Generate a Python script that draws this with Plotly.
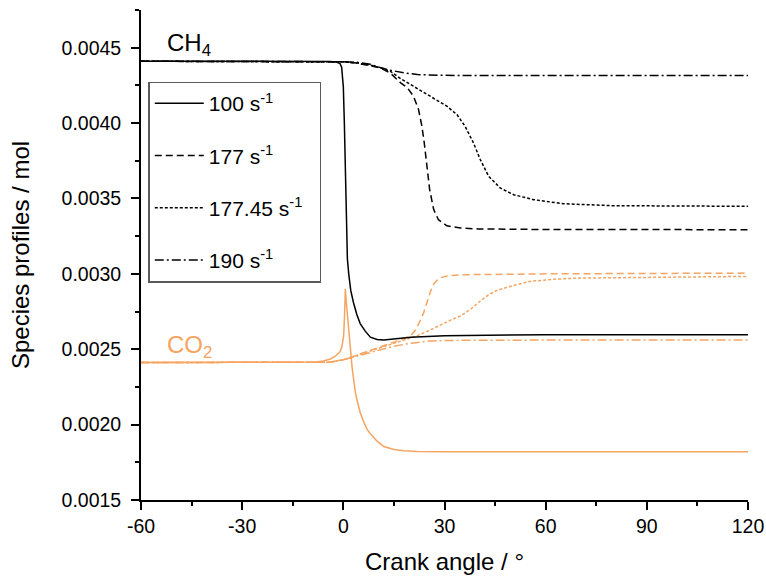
import plotly.graph_objects as go

# ---------------- data ----------------
# CH4, 100 s^-1
ch4_100_x = [-60, -10, -4, -2, -1, -0.5, 0, 0.3, 0.6, 0.9, 1.2, 1.6, 2.2, 3, 4, 5, 6.5, 8, 10, 12, 15, 20, 30, 60, 120]
ch4_100_y = [0.00441, 0.00441, 0.004409, 0.004405, 0.004395, 0.00437, 0.00424, 0.00400, 0.00371, 0.00335, 0.00310, 0.00300,
             0.00289, 0.00281, 0.00273, 0.00267, 0.00262, 0.00258, 0.002565, 0.002562, 0.002568, 0.00258, 0.00259, 0.002596, 0.002596]
# CH4, 177 s^-1
ch4_177_x = [-60, -5, 0, 4, 8, 11, 14, 17, 19, 20.8, 22.3, 23.3, 24, 24.8, 25.6, 26.8, 28.2, 30.7, 34.7, 40, 60, 120]
ch4_177_y = [0.00441, 0.00441, 0.004406, 0.004398, 0.004382, 0.004366, 0.00433, 0.004267, 0.004234, 0.004178, 0.00409, 0.003979,
             0.003868, 0.003713, 0.003558, 0.003426, 0.003359, 0.003319, 0.003304, 0.003298, 0.003294, 0.003293]
# CH4, 177.45 s^-1
ch4_17745_x = [-60, -5, 0, 4, 8, 11, 13.9, 17, 20.8, 25.8, 30.7, 33.7, 36.1, 38.6, 40.6, 43.1, 46.5, 50.5, 56.4, 65.3, 80, 120]
ch4_17745_y = [0.00441, 0.00441, 0.004406, 0.004398, 0.004385, 0.004366, 0.004344, 0.004295, 0.004244, 0.004178, 0.004112, 0.004056,
               0.003979, 0.003868, 0.003758, 0.003647, 0.00357, 0.003525, 0.003492, 0.003465, 0.003452, 0.003448]
# CH4, 190 s^-1
ch4_190_x = [-60, -5, 0, 4, 8, 11, 14, 18, 22, 28, 40, 120]
ch4_190_y = [0.00441, 0.00441, 0.004407, 0.004403, 0.00439, 0.004368, 0.00435, 0.004333, 0.004322, 0.004317, 0.004315, 0.004315]

# CO2, 100 s^-1
co2_100_x = [-60, -12, -8, -6, -4, -2.5, -1.5, -0.9, -0.4, 0.1, 0.35, 0.6, 0.85, 1.3, 1.7, 2.1, 2.6, 3.05, 3.6, 4.2, 5, 6, 7, 8,
             10, 12, 15, 18, 22, 30, 60, 120]
co2_100_y = [0.002412, 0.002412, 0.002415, 0.002422, 0.002434, 0.002452, 0.00247, 0.002485, 0.00252, 0.00259, 0.00272, 0.00290,
             0.00282, 0.00270, 0.00258, 0.00246, 0.00238, 0.00230, 0.00221, 0.00215, 0.00208, 0.00202, 0.00197, 0.00194,
             0.00189, 0.001855, 0.001835, 0.001826, 0.001822, 0.00182, 0.00182, 0.00182]
# CO2, 177 s^-1
co2_177_x = [-60, -4, 0, 4, 8, 12, 16, 18, 20, 21.5, 22.8, 23.8, 24.8, 25.8, 27, 28.5, 31, 35, 60, 120]
co2_177_y = [0.002412, 0.002414, 0.00243, 0.00246, 0.00249, 0.00252, 0.00255, 0.00257, 0.00259, 0.00263, 0.00269, 0.00274,
             0.00281, 0.00288, 0.00294, 0.002972, 0.002988, 0.002994, 0.003, 0.003005]
# CO2, 177.45 s^-1
co2_17745_x = [-60, -4, 0, 4, 8, 14, 18, 22, 26, 28.7, 31.5, 34.7, 38, 40.6, 43, 45.5, 50, 55.4, 63, 70, 90, 120]
co2_17745_y = [0.002412, 0.002414, 0.00243, 0.00246, 0.00249, 0.00253, 0.00256, 0.00259, 0.00263, 0.00266, 0.00269, 0.00272,
               0.00277, 0.00282, 0.00286, 0.00289, 0.00292, 0.00295, 0.002965, 0.002972, 0.002978, 0.002983]
# CO2, 190 s^-1
co2_190_x = [-60, -4, 0, 5, 10, 15, 20, 25, 30, 40, 120]
co2_190_y = [0.002412, 0.002414, 0.00243, 0.00246, 0.00249, 0.00252, 0.00254, 0.002553, 0.002558, 0.00256, 0.002562]

legend_names = ["100 s<sup>-1</sup>", "177 s<sup>-1</sup>", "177.45 s<sup>-1</sup>&nbsp;&nbsp;", "190 s<sup>-1</sup>"]

x_ticks = [-60, -30, 0, 30, 60, 90, 120]
y_ticks = [0.0015, 0.0020, 0.0025, 0.0030, 0.0035, 0.0040, 0.0045]

# ---------------- style ----------------
FONT = "Liberation Sans, Arial, sans-serif"
BLACK = "#000000"
ORANGE = "#F6A461"
dashes = ["solid", "7px,4px", "3px,2px", "9px,3px,2px,3px"]

ch4_series = [(ch4_100_x, ch4_100_y), (ch4_177_x, ch4_177_y), (ch4_17745_x, ch4_17745_y), (ch4_190_x, ch4_190_y)]
co2_series = [(co2_100_x, co2_100_y), (co2_177_x, co2_177_y), (co2_17745_x, co2_17745_y), (co2_190_x, co2_190_y)]

fig = go.Figure()
for i, (xs, ys) in enumerate(co2_series):
    fig.add_trace(go.Scatter(x=xs, y=ys, mode="lines", showlegend=False,
                             line=dict(color=ORANGE, width=1.5, dash=dashes[i])))
for i, (xs, ys) in enumerate(ch4_series):
    fig.add_trace(go.Scatter(x=xs, y=ys, mode="lines", name=legend_names[i], legendgroup=f"g{i}",
                             line=dict(color=BLACK, width=1.5, dash=dashes[i])))

axis_common = dict(showgrid=False, zeroline=False, showline=True, linecolor=BLACK, linewidth=1.8,
                   ticks="outside", ticklen=8, tickwidth=1.8, tickcolor=BLACK, automargin=False,
                   tickfont=dict(family=FONT, size=19.5, color=BLACK), mirror=False)

fig.update_xaxes(range=[-60, 120], tickvals=x_ticks, ticktext=[str(v) for v in x_ticks],
                 minor=dict(dtick=15, tick0=-60, ticklen=4, tickwidth=1.8, tickcolor=BLACK, ticks="outside"),
                 title=dict(text="Crank angle / °", font=dict(family=FONT, size=24, color=BLACK), standoff=17),
                 **axis_common)
fig.update_yaxes(range=[0.0015, 0.00475], tickvals=y_ticks, ticktext=[f"{v:.4f}" for v in y_ticks],
                 ticklabelstandoff=6,
                 minor=dict(dtick=0.00025, tick0=0.0015, ticklen=4, tickwidth=1.8, tickcolor=BLACK, ticks="outside"),
                 title=dict(text="Species profiles / mol", font=dict(family=FONT, size=24, color=BLACK), standoff=25),
                 **axis_common)

fig.add_annotation(x=-52.8, y=0.004405, xref="x", yref="y", xanchor="left", yanchor="bottom",
                   text="CH<sub>4</sub>", showarrow=False, font=dict(family=FONT, size=24, color=BLACK))
fig.add_annotation(x=-52.8, y=0.002405, xref="x", yref="y", xanchor="left", yanchor="bottom",
                   text="CO<sub>2</sub>", showarrow=False, font=dict(family=FONT, size=24, color=ORANGE))

fig.update_layout(
    width=766, height=579,
    margin=dict(l=141, r=18, t=10, b=79),
    paper_bgcolor="white", plot_bgcolor="white",
    font=dict(family=FONT, color=BLACK),
    legend=dict(x=0.012, y=0.854, xanchor="left", yanchor="top",
                bgcolor="white", bordercolor="#5a5a5a", borderwidth=1.5,
                font=dict(family=FONT, size=21, color=BLACK),
                traceorder="grouped", tracegroupgap=22, itemwidth=49),
)

fig.write_html("out.html")
